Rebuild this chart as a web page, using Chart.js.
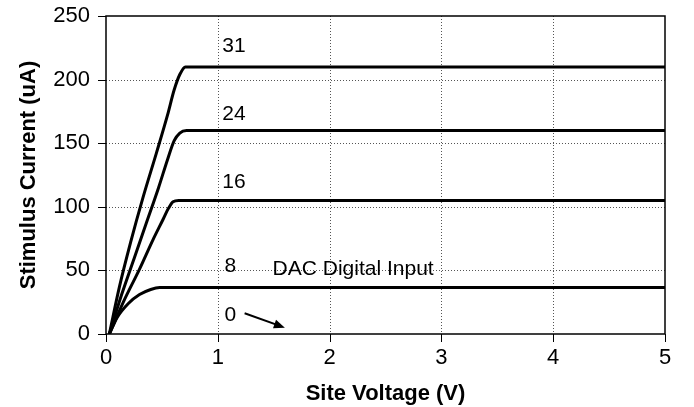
<!DOCTYPE html>
<html>
<head>
<meta charset="utf-8">
<script src="https://cdn.jsdelivr.net/npm/chart.js@4.4.1/dist/chart.umd.min.js"></script>
<style>
    html, body { margin: 0; padding: 0; background: #fff; }
    #wrap { width: 694px; height: 407px; }
</style>
</head>
<body>
<div id="wrap"><canvas id="ivChart"></canvas></div>
<script>
// DAC input codes and the measured curves (site voltage V, stimulus current uA)
const dacCodes = ['31', '24', '16', '8'];
const volts31 = [0.03, 0.12, 0.22, 0.33, 0.45, 0.55, 0.61, 0.66, 0.71, 0.8, 5];
const amps31  = [0, 37, 72, 107, 142, 172, 192, 204, 210, 210, 210];
const volts24 = [0.03, 0.14, 0.25, 0.36, 0.47, 0.55, 0.61, 0.66, 0.72, 5];
const amps24  = [0, 31, 59, 87, 115, 137, 152, 158, 160, 160];
const volts16 = [0.03, 0.16, 0.3, 0.42, 0.51, 0.56, 0.6, 0.65, 5];
const amps16  = [0, 26, 51, 74, 90, 99, 104, 105, 105];
const volts8  = [0.03, 0.1, 0.2, 0.3, 0.4, 0.48, 0.55, 5];
const amps8   = [0, 13, 24, 31, 35, 36.5, 36.5, 36.5];

const xTicks = [0, 1, 2, 3, 4, 5];
const yTicks = [0, 50, 100, 150, 200, 250];

const curveVolts = [volts31, volts24, volts16, volts8];
const curveAmps = [amps31, amps24, amps16, amps8];

const datasets = dacCodes.map((code, k) => ({
    label: code,
    data: curveVolts[k].map((v, i) => ({x: v, y: curveAmps[k][i]})),
    borderColor: '#000',
    borderWidth: 3,
    pointRadius: 0,
    fill: false,
    cubicInterpolationMode: 'monotone',
}));

const FONT = "'Liberation Sans', Arial, sans-serif";

// text labels on the plot, placed in data units
const notes = [
    {text: '31', x: 1.04, y: 226},
    {text: '24', x: 1.04, y: 173},
    {text: '16', x: 1.04, y: 119},
    {text: '8', x: 1.06, y: 53},
    {text: 'DAC Digital Input', x: 1.49, y: 51},
    {text: '0', x: 1.06, y: 15},
];

const frameAndNotes = {
    id: 'frameAndNotes',
    beforeDatasetsDraw(chart) {
        // dotted grid inside the plot
        const ctx = chart.ctx;
        const a = chart.chartArea;
        const xs = chart.scales.x;
        const ys = chart.scales.y;
        ctx.save();
        ctx.strokeStyle = '#555';
        ctx.lineWidth = 1;
        ctx.setLineDash([1, 2]);
        ctx.beginPath();
        xTicks.slice(1, -1).forEach(v => {
            const px = Math.round(xs.getPixelForValue(v)) + 0.5;
            ctx.moveTo(px, a.top);
            ctx.lineTo(px, a.bottom);
        });
        yTicks.slice(1, -1).forEach(v => {
            const py = Math.round(ys.getPixelForValue(v)) + 0.5;
            ctx.moveTo(a.left, py);
            ctx.lineTo(a.right, py);
        });
        ctx.stroke();
        ctx.restore();
    },
    afterDatasetsDraw(chart) {
        const ctx = chart.ctx;
        const a = chart.chartArea;
        const xs = chart.scales.x;
        const ys = chart.scales.y;
        ctx.save();
        ctx.strokeStyle = '#000';
        ctx.lineWidth = 1.5;
        ctx.strokeRect(a.left, a.top, a.right - a.left, a.bottom - a.top);

        // outside tick marks
        ctx.lineWidth = 1;
        ctx.beginPath();
        xTicks.forEach(v => {
            const px = Math.round(xs.getPixelForValue(v)) + 0.5;
            ctx.moveTo(px, a.bottom);
            ctx.lineTo(px, a.bottom + 8);
        });
        yTicks.forEach(v => {
            const py = Math.round(ys.getPixelForValue(v)) + 0.5;
            ctx.moveTo(a.left - 8, py);
            ctx.lineTo(a.left, py);
        });
        ctx.stroke();

        ctx.fillStyle = '#000';
        ctx.font = '21px ' + FONT;
        ctx.textAlign = 'left';
        ctx.textBaseline = 'middle';
        notes.forEach(n => {
            ctx.fillText(n.text, xs.getPixelForValue(n.x), ys.getPixelForValue(n.y));
        });

        // arrow pointing at the zero line
        const x1 = xs.getPixelForValue(1.24), y1 = ys.getPixelForValue(16.3);
        const x2 = xs.getPixelForValue(1.6), y2 = ys.getPixelForValue(5);
        const ang = Math.atan2(y2 - y1, x2 - x1);
        ctx.lineWidth = 2;
        ctx.beginPath();
        ctx.moveTo(x1, y1);
        ctx.lineTo(x2 - 6 * Math.cos(ang), y2 - 6 * Math.sin(ang));
        ctx.stroke();
        ctx.beginPath();
        ctx.moveTo(x2, y2);
        ctx.lineTo(x2 - 11 * Math.cos(ang) + 4.5 * Math.sin(ang), y2 - 11 * Math.sin(ang) - 4.5 * Math.cos(ang));
        ctx.lineTo(x2 - 11 * Math.cos(ang) - 4.5 * Math.sin(ang), y2 - 11 * Math.sin(ang) + 4.5 * Math.cos(ang));
        ctx.closePath();
        ctx.fill();
        ctx.restore();
    }
};

new Chart(document.getElementById('ivChart'), {
    type: 'line',
    data: {datasets: datasets},
    options: {
        responsive: true,
        maintainAspectRatio: false,
        animation: false,
        layout: {padding: {left: 16, right: 29, top: 16, bottom: 0}},
        plugins: {
            legend: {display: false},
            tooltip: {enabled: false},
        },
        scales: {
            x: {
                type: 'linear',
                min: 0,
                max: 5,
                afterBuildTicks: (s) => { s.ticks = xTicks.map(v => ({value: v})); },
                afterFit: (s) => { s.height = 73; s.paddingLeft = 0; s.paddingRight = 0; },
                grid: {display: false, tickLength: 8},
                border: {display: false},
                ticks: {color: '#000', padding: 3, font: {family: FONT, size: 22}},
                title: {display: true, text: 'Site Voltage (V)', color: '#000', padding: {top: 0, bottom: 0},
                    font: {family: FONT, size: 22, weight: 'bold'}},
            },
            y: {
                min: 0,
                max: 250,
                afterBuildTicks: (s) => { s.ticks = yTicks.map(v => ({value: v})); },
                afterFit: (s) => { s.width = 90; s.paddingTop = 0; s.paddingBottom = 0; },
                grid: {display: false, tickLength: 8},
                border: {display: false},
                ticks: {color: '#000', padding: 8, font: {family: FONT, size: 22}},
                title: {display: true, text: 'Stimulus Current (uA)', color: '#000', padding: {top: 0, bottom: 4},
                    font: {family: FONT, size: 22, weight: 'bold'}},
            },
        },
    },
    plugins: [frameAndNotes],
});
</script>
</body>
</html>
